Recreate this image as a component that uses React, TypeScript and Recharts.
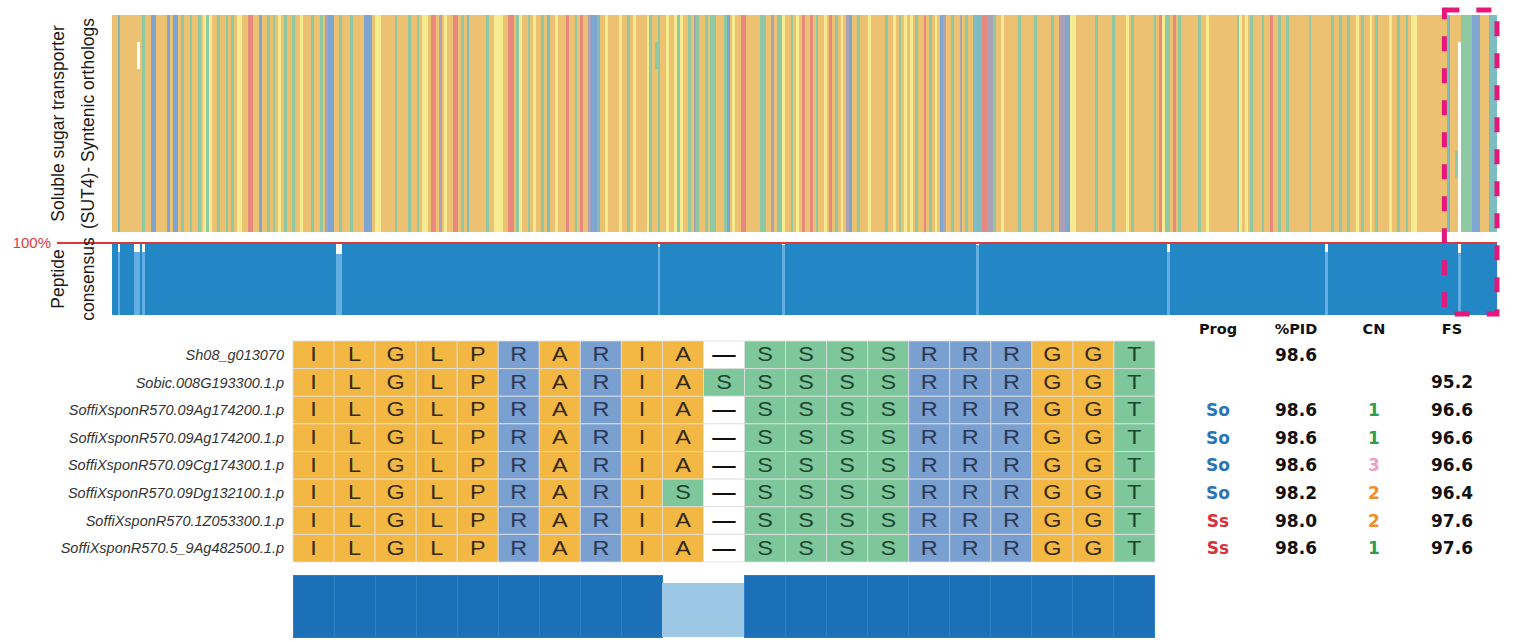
import React from "react";
import {
  AreaChart, Area, ComposedChart, BarChart, Bar, Cell, LabelList, ScatterChart, Scatter,
  XAxis, YAxis, ReferenceLine, ReferenceArea,
} from "recharts";

const W = 1514;
const SANS = "'Liberation Sans', Arial, sans-serif";
const BOLD = "'DejaVu Sans', sans-serif";
const RED = "#E0373D";
const MAGENTA = "#E5177B";

// overview of the whole alignment: one colour class per column
// O hydrophobic orange, T teal, C cyan, B blue, R red, Y yellow, P grey-violet, W gap
const overviewColumns = [
  "OOCOOOOOOOOTOOBBOOOO", "BOBBOTOOTOOTOYTYOOTO", "OTOTOYYOORROOBOOTOTO",
  "YOTOOTOOYOOOTOOTOPBB", "OOTOOOTOOOOBBBOYYOOO", "OOTOOOOTOOTOYYORROPOYOORROT",
  "OCOOOOOOTOOYYYOORROT", "YOOTOYOOTOCOOYOOOROO", "TOROOPBBCOOYOOOOYOOT",
  "OYOOOOYTOOTOOYOOYTYO", "OTOPTOOTOTTOOOTBOYOO", "RROOOOOTTOOPOTTYOOTOYORO",
  "OROTOOYORO", "TOYOPBOOTO", "OOYOOOOOTO", "OYOTOYOYOT", "OOROTOYOBP", "OOTOOPOTOO",
  "CCCRRPPTOOYOOOOOTOOOOOTOOOOOTOOPPBBYYOOOOOOOTOOOOOTOOOOYOTOOOO",
  "OOOTORYTTOROTOOOOOOTOOYOOOOOOOOOO", "TYOYOTOOOTOOROOTOOTOOOOOOOTOOOOOOO",
  "TOOTOOTOOYOTOOYOTOOOOYOOTOOTOYY", "OOOOOOOOOOOCOOOWTTTTBBBOOOCCC",
].join("");

// single cells that differ from the column colour (row 0 = top sequence)
const overviewExceptions = [
  { col: 9, row: 1, code: "W" },
  { col: 196, row: 1, code: "T" },
  { col: 485, row: 5, code: "T" },
  { col: 486, row: 0, code: "O" },
];

const overviewColors: Record<string, string> = {
  O: "#ECC171", T: "#8FC9A3", C: "#7EBCC4", B: "#7FA5D1",
  R: "#E8897D", Y: "#F7EB8F", P: "#ACA2B8", W: "#FFFFFF",
};

// peptide consensus: 100% except these columns
const consensusDips = [
  { col: 2, pct: 88 }, { col: 8, pct: 88 }, { col: 9, pct: 88 }, { col: 11, pct: 88 },
  { col: 81, pct: 85 }, { col: 82, pct: 85 }, { col: 197, pct: 94 }, { col: 242, pct: 97 },
  { col: 312, pct: 97 }, { col: 381, pct: 88 }, { col: 438, pct: 88 }, { col: 486, pct: 86 },
];

const highlightFrom = 481;

// zoomed window
const sequenceNames = [
  "Sh08_g013070",
  "Sobic.008G193300.1.p",
  "SoffiXsponR570.09Ag174200.1.p",
  "SoffiXsponR570.09Ag174200.1.p",
  "SoffiXsponR570.09Cg174300.1.p",
  "SoffiXsponR570.09Dg132100.1.p",
  "SoffiXsponR570.1Z053300.1.p",
  "SoffiXsponR570.5_9Ag482500.1.p",
];
const sequences = [
  "ILGLPRARIA-SSSSRRRGGT",
  "ILGLPRARIASSSSSRRRGGT",
  "ILGLPRARIA-SSSSRRRGGT",
  "ILGLPRARIA-SSSSRRRGGT",
  "ILGLPRARIA-SSSSRRRGGT",
  "ILGLPRARIS-SSSSRRRGGT",
  "ILGLPRARIA-SSSSRRRGGT",
  "ILGLPRARIA-SSSSRRRGGT",
];
const windowConsensus = [100, 100, 100, 100, 100, 100, 100, 100, 100, 87.5, 87.5, 100, 100, 100, 100, 100, 100, 100, 100, 100, 100];

const tableHeaders = ["Prog", "%PID", "CN", "FS"];
const progValues = ["", "", "So", "So", "So", "So", "Ss", "Ss"];
const pidValues = ["98.6", "", "98.6", "98.6", "98.6", "98.2", "98.0", "98.6"];
const cnValues = ["", "", "1", "1", "3", "2", "2", "1"];
const fsValues = ["", "95.2", "96.6", "96.6", "96.6", "96.4", "97.6", "97.6"];

const N = overviewColumns.length;
const overviewClasses = Object.keys(overviewColors);

const overviewData = Array.from({ length: N + 1 }, (_, i) => {
  const code = overviewColumns[Math.min(i, N - 1)];
  const row: Record<string, number> = { x: i };
  overviewClasses.forEach((k) => { row[k] = code === k ? 8 : 0; });
  return row;
});

const dipMap = new Map(consensusDips.map((d) => [d.col, d.pct]));
const consensusData = Array.from({ length: N + 1 }, (_, i) => {
  const p = dipMap.get(Math.min(i, N - 1));
  return { x: i, main: p ?? 100, dip: p ?? 0 };
});

const residueFill = (r: string) => {
  if (r === "R") return "#7A9FD1";
  if (r === "S" || r === "T") return "#7DC79B";
  if (r === "-") return "#FFFFFF";
  return "#F2B843";
};
const residueInk = (r: string) => {
  if (r === "R") return "#2B3853";
  if (r === "S" || r === "T") return "#1D4430";
  if (r === "-") return "#111";
  return "#35290F";
};

const nCols = sequences[0].length;
const gridData = sequenceNames.map((name, r) => {
  const row: Record<string, string | number> = { name };
  for (let j = 0; j < nCols; j++) {
    row[`c${j}`] = 1;
    row[`l${j}`] = sequences[r][j];
  }
  return row;
});

const windowData = windowConsensus.map((pct, pos) => ({ pos, pct }));

const tableData = sequenceNames.flatMap((name, r) =>
  [progValues, pidValues, cnValues, fsValues].map((vals, c) => ({
    col: tableHeaders[c], row: `${r}`, text: vals[r],
  }))
);

const tableInk = (col: string, text: string) => {
  if (col === "Prog") return text === "So" ? "#2C75B5" : "#D7313B";
  if (col === "CN") return text === "1" ? "#2E9E4E" : text === "2" ? "#EF8E2C" : "#E8A2C8";
  return "#111";
};

const sideLabel = (lines: string[]) => (props: any) => {
  const vb = props.viewBox || { x: 0, y: 0, width: 112, height: 0 };
  const cy = vb.y + vb.height / 2;
  return (
    <g>
      {lines.map((t, i) => {
        const x = vb.x + 58 + i * 30;
        return (
          <text key={i} x={x} y={cy} transform={`rotate(-90 ${x} ${cy})`} textAnchor="middle"
            dominantBaseline="central" fontSize={17.5} fontFamily={SANS} fill="#1a1a1a">
            {t}
          </text>
        );
      })}
    </g>
  );
};

// residue letters in the source are drawn wide, so stretch them a little
const renderResidue = (props: any) => {
  const vb = props.viewBox || props;
  const v = String(props.value);
  const cx = vb.x + vb.width / 2;
  const cy = vb.y + vb.height / 2;
  return (
    <text transform={`translate(${cx} ${cy}) scale(1.2 1)`} x={0} y={0} textAnchor="middle" dominantBaseline="central"
      fontSize={19.5} fontFamily={SANS} fontWeight={v === "-" ? 700 : 400} fill={residueInk(v)}>
      {v === "-" ? "—" : v}
    </text>
  );
};

export default function App() {
  return (
    <div style={{ position: "absolute", left: 0, top: 0, width: W, height: 642, background: "#fff", fontFamily: SANS }}>
      {/* overview alignment */}
      <div style={{ position: "absolute", left: 0, top: 0, shapeRendering: "crispEdges" }}>
        <AreaChart width={W} height={240} data={overviewData} margin={{ top: 15, right: 17, bottom: 8, left: 0 }}>
          <XAxis type="number" dataKey="x" domain={[0, N]} hide />
          <YAxis type="number" domain={[0, 8]} width={112} tick={false} axisLine={false} tickLine={false}
            label={sideLabel(["Soluble sugar transporter", "(SUT4)- Syntenic orthologs"])} />
          {overviewClasses.map((k) => (
            <Area key={k} type="stepAfter" dataKey={k} stroke="none" fill={overviewColors[k]} fillOpacity={1}
              isAnimationActive={false} dot={false} activeDot={false} />
          ))}
          {overviewExceptions.map((e, i) => (
            <ReferenceArea key={i} x1={e.col} x2={e.col + 1} y1={7 - e.row} y2={8 - e.row}
              fill={overviewColors[e.code]} fillOpacity={1} stroke="none" />
          ))}
        </AreaChart>
      </div>

      {/* peptide consensus */}
      <div style={{ position: "absolute", left: 0, top: 228, shapeRendering: "crispEdges" }}>
        <ComposedChart width={W} height={95} data={consensusData} margin={{ top: 15, right: 17, bottom: 8, left: 0 }}>
          <XAxis type="number" dataKey="x" domain={[0, N]} hide />
          <YAxis type="number" domain={[0, 100]} ticks={[100]} width={112} axisLine={false}
            tickSize={55} tickMargin={6} tickLine={{ stroke: RED, strokeWidth: 1.3 }}
            tick={{ fill: RED, fontSize: 15, fontFamily: SANS }} tickFormatter={(v: number) => `${v}%`}
            label={sideLabel(["Peptide", "consensus"])} />
          <Area type="stepAfter" dataKey="main" stroke="none" fill="#2386C5" fillOpacity={1}
            isAnimationActive={false} dot={false} activeDot={false} />
          <Area type="stepAfter" dataKey="dip" stroke="none" fill="#62AEE2" fillOpacity={1}
            isAnimationActive={false} dot={false} activeDot={false} />
          <ReferenceLine y={100} stroke={RED} strokeWidth={1.3} />
        </ComposedChart>
      </div>

      {/* zoomed window */}
      <div style={{ position: "absolute", left: 0, top: 330 }}>
        <BarChart layout="vertical" width={1155} height={239} data={gridData}
          margin={{ top: 11, right: 0, bottom: 7, left: 0 }} barCategoryGap={0}>
          <XAxis type="number" domain={[0, nCols]} hide />
          <YAxis type="category" dataKey="name" width={293} axisLine={false} tickLine={false} tickSize={0}
            tickMargin={9} interval={0}
            tick={{ fontSize: 14.5, fontStyle: "italic", fill: "#333", fontFamily: SANS }} />
          {Array.from({ length: nCols }, (_, j) => (
            <Bar key={j} dataKey={`c${j}`} stackId="aln" barSize={27.6} isAnimationActive={false}>
              {gridData.map((row, r) => (
                <Cell key={r} fill={residueFill(String(row[`l${j}`]))} stroke="rgba(222,222,222,0.8)" strokeWidth={1} />
              ))}
              <LabelList dataKey={`l${j}`} content={renderResidue} />
            </Bar>
          ))}
        </BarChart>
      </div>

      {/* window consensus */}
      <div style={{ position: "absolute", left: 0, top: 570, shapeRendering: "crispEdges" }}>
        <BarChart width={1155} height={72} data={windowData} margin={{ top: 5, right: 0, bottom: 5, left: 293 }}
          barCategoryGap={0} barGap={0}>
          <XAxis dataKey="pos" hide />
          <YAxis domain={[0, 100]} hide />
          <Bar dataKey="pct" barSize={41.04} isAnimationActive={false}>
            {windowData.map((d, i) => (
              <Cell key={i} fill={d.pct < 100 ? "#9CC7E5" : "#1C70B7"}
                stroke={d.pct < 100 ? "none" : "#2E7EC2"} strokeWidth={1} />
            ))}
          </Bar>
        </BarChart>
      </div>

      {/* table */}
      <div style={{ position: "absolute", left: 1150, top: 300 }}>
        <ScatterChart width={364} height={270} margin={{ top: 11, right: 23, bottom: 8, left: 29 }}>
          <XAxis type="category" dataKey="col" orientation="top" allowDuplicatedCategory={false} height={30}
            axisLine={false} tickLine={false} tickSize={0} tickMargin={7} interval={0}
            tick={{ fontSize: 14.5, fontWeight: 700, fill: "#111", fontFamily: BOLD }} />
          <YAxis type="category" dataKey="row" allowDuplicatedCategory={false} hide reversed />
          <Scatter data={tableData} isAnimationActive={false}
            shape={(p: any) => p.payload.text ? (
              <text x={p.cx} y={p.cy} textAnchor="middle" dominantBaseline="central" fontSize={17}
                fontWeight={700} fontFamily={BOLD} fill={tableInk(p.payload.col, p.payload.text)}>
                {p.payload.text}
              </text>
            ) : <g />} />
        </ScatterChart>
      </div>

      {/* highlighted region */}
      <div style={{ position: "absolute", left: 0, top: 0, pointerEvents: "none" }}>
        <ComposedChart width={W} height={330} data={consensusData} margin={{ top: 10, right: 17, bottom: 16, left: 112 }}>
          <XAxis type="number" dataKey="x" domain={[0, N]} hide />
          <YAxis type="number" domain={[0, 100]} hide />
          <Area type="stepAfter" dataKey="main" stroke="none" fill="none" isAnimationActive={false}
            dot={false} activeDot={false} />
          <ReferenceArea x1={highlightFrom} x2={N} y1={0} y2={100} fill="none" stroke={MAGENTA} strokeWidth={5}
            strokeDasharray="15 17" ifOverflow="visible" />
        </ComposedChart>
      </div>
    </div>
  );
}
